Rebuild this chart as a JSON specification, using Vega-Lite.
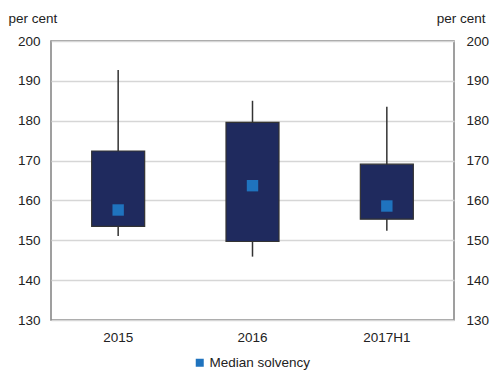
{
  "$schema": "https://vega.github.io/schema/vega-lite/v6.json",
  "autosize": "none",
  "width": 403,
  "height": 279,
  "padding": {"left": 51, "top": 41, "right": 36, "bottom": 52},
  "background": "white",
  "config": {
    "font": "Liberation Sans",
    "view": {"stroke": "#808080", "strokeWidth": 1.5},
    "axis": {"labelFontSize": 13.5, "labelColor": "#222", "titleFontSize": 13.5, "titleFontWeight": "normal", "titleColor": "#222", "ticks": false, "domain": false, "labelOverlap": false, "labelFlush": false}
  },
  "data": {"values": [
    {"period": "2015", "low": 151.1, "q1": 153.5, "median": 157.6, "q3": 172.4, "high": 192.7},
    {"period": "2016", "low": 145.9, "q1": 149.7, "median": 163.7, "q3": 179.6, "high": 185.0},
    {"period": "2017H1", "low": 152.4, "q1": 155.3, "median": 158.6, "q3": 169.1, "high": 183.5}
  ]},
  "encoding": {
    "x": {"field": "period", "type": "nominal", "sort": null, "scale": {"paddingInner": 0, "paddingOuter": 0},
      "axis": {"title": null, "labelAngle": 0, "labelPadding": 10, "grid": false}}
  },
  "layer": [
    {
      "mark": {"type": "rule", "opacity": 0},
      "encoding": {
        "y": {"field": "low", "type": "quantitative", "scale": {"domain": [130, 200], "nice": false, "zero": false},
          "axis": {"orient": "left", "values": [130, 140, 150, 160, 170, 180, 190, 200], "grid": true, "gridColor": "#d6d6d6", "gridWidth": 1.5, "labelPadding": 11,
            "title": "per cent", "titleAngle": 0, "titleAlign": "left", "titleBaseline": "middle", "titleX": -43, "titleY": -23}}
      }
    },
    {
      "mark": {"type": "rule", "color": "#333", "strokeWidth": 1.5},
      "encoding": {
        "y": {"field": "low", "type": "quantitative", "scale": {"domain": [130, 200], "nice": false, "zero": false}, "axis": null},
        "y2": {"field": "high"}
      }
    },
    {
      "mark": {"type": "bar", "width": 53, "color": "#1f2a5e", "stroke": "#333", "strokeWidth": 1.2},
      "encoding": {
        "y": {"field": "q1", "type": "quantitative", "scale": {"domain": [130, 200], "nice": false, "zero": false}, "axis": null},
        "y2": {"field": "q3"}
      }
    },
    {
      "mark": {"type": "point", "shape": "square", "filled": true, "size": 130, "opacity": 1},
      "encoding": {
        "y": {"field": "median", "type": "quantitative", "scale": {"domain": [130, 200], "nice": false, "zero": false}, "axis": null},
        "color": {"datum": "Median solvency", "type": "nominal",
          "scale": {"range": ["#1f73be"]},
          "legend": {"title": null, "orient": "none", "legendX": 142, "legendY": 315, "symbolType": "square", "symbolSize": 64, "labelFontSize": 13.5, "labelColor": "#222", "padding": 0, "labelOffset": 3}}
      }
    },
    {
      "mark": {"type": "rule", "opacity": 0},
      "encoding": {
        "y": {"field": "low", "type": "quantitative", "scale": {"domain": [130, 200], "nice": false, "zero": false},
          "axis": {"orient": "right", "values": [130, 140, 150, 160, 170, 180, 190, 200], "grid": false, "labelPadding": 12,
            "title": "per cent", "titleAngle": 0, "titleAlign": "right", "titleBaseline": "middle", "titleX": 31, "titleY": -23}}
      }
    }
  ],
  "resolve": {"scale": {"y": "independent"}}
}
